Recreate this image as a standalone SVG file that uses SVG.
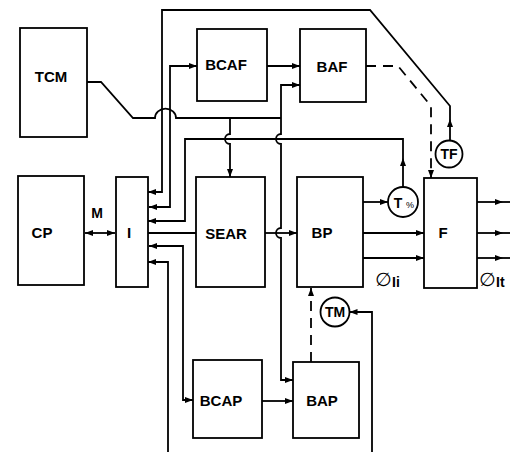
<svg xmlns="http://www.w3.org/2000/svg" width="511" height="452" viewBox="0 0 511 452">
<style>
.box{fill:#fff;stroke:#000;stroke-width:1.8}
.lbl{font-family:"Liberation Sans",Arial,sans-serif;font-weight:bold;font-size:15px;text-anchor:middle;fill:#000}
.clbl{font-family:"Liberation Sans",Arial,sans-serif;font-weight:bold;font-size:14px;text-anchor:middle;fill:#000}
.ln{fill:none;stroke:#000;stroke-width:1.8}
.ds{fill:none;stroke:#000;stroke-width:1.8;stroke-dasharray:10 7}
.sym{font-family:"DejaVu Sans",sans-serif;font-size:19px;fill:#000}
.sm{font-family:"Liberation Sans",Arial,sans-serif;font-weight:bold;font-size:14px;fill:#000}
</style>
<defs>
<marker id="a" markerUnits="userSpaceOnUse" markerWidth="10" markerHeight="8" refX="8" refY="3" orient="auto-start-reverse">
<path d="M0,0 L8,3 L0,6 z" fill="#000"/>
</marker>
</defs>
<rect width="511" height="452" fill="#fff"/>

<g id="connectors">
<!-- CP <-> I -->
<path class="ln" d="M85,233 H115" marker-start="url(#a)" marker-end="url(#a)"/>
<!-- I -> SEAR -->
<path class="ln" d="M148,233 H196"/>
<!-- SEAR -> BP -->
<path class="ln" d="M265,233 H297" marker-end="url(#a)"/>
<!-- TCM line with hop, junctions -->
<path class="ln" d="M87,82 H101 L133,118 H155 A10,9 0 0 1 176,118 H281"/>
<!-- junction to SEAR -->
<path class="ln" d="M230,118 V134 A5,5 0 0 0 230,144 V177" marker-end="url(#a)"/>
<!-- vertical BAF / BAP -->
<path class="ln" d="M300,85 H281 V134 A5,5 0 0 0 281,144 V228 A5,5 0 0 0 281,238 V380 H293" marker-start="url(#a)" marker-end="url(#a)"/>
<!-- T loop back to I -->
<path class="ln" d="M403,187 V139 H185 V221 H148" marker-end="url(#a)"/>
<path d="M403,158 L400,166 L406,166 z" fill="#000"/>
<!-- top loop TF -> I -->
<path class="ln" d="M450,140 V106 L370,10 H162 V192 H148" marker-end="url(#a)"/>
<path d="M450,119 L447,127 L453,127 z" fill="#000"/>
<!-- I <-> BCAF -->
<path class="ln" d="M149,207 H170 V66 H197" marker-start="url(#a)" marker-end="url(#a)"/>
<!-- BCAF -> BAF -->
<path class="ln" d="M267,66 H300" marker-end="url(#a)"/>
<!-- I <-> BCAP -->
<path class="ln" d="M149,246 H183 V400 H193" marker-start="url(#a)" marker-end="url(#a)"/>
<!-- bottom input -> I -->
<path class="ln" d="M168,452 V262 H148" marker-end="url(#a)"/>
<!-- BCAP -> BAP -->
<path class="ln" d="M262,401 H293" marker-end="url(#a)"/>
<!-- BAP -> BP dashed -->
<path class="ds" d="M311,362 V288" marker-end="url(#a)"/>
<!-- input -> TM -->
<path class="ln" d="M372,452 V312 H349.5" marker-end="url(#a)"/>
<!-- BP -> T -->
<path class="ln" d="M363,202 H388" marker-end="url(#a)"/>
<!-- BP -> F -->
<path class="ln" d="M363,233 H424" marker-end="url(#a)"/>
<path class="ln" d="M363,258 H424" marker-end="url(#a)"/>
<!-- F outputs -->
<path class="ln" d="M477,202 H503" marker-end="url(#a)"/>
<path class="ln" d="M503,202 H510"/>
<path class="ln" d="M477,233 H503" marker-end="url(#a)"/>
<path class="ln" d="M503,233 H510"/>
<path class="ln" d="M477,258 H503" marker-end="url(#a)"/>
<path class="ln" d="M503,258 H510"/>
<!-- BAF -> F dashed -->
<path class="ds" d="M366,66 H398 L431,106 V178" marker-end="url(#a)"/>
</g>

<g id="TCM"><rect class="box" x="20" y="28" width="67" height="109"/><text class="lbl" x="51" y="82">TCM</text></g>
<g id="CP"><rect class="box" x="18" y="176" width="66" height="109"/><text class="lbl" x="42" y="238">CP</text></g>
<g id="I"><rect class="box" x="116" y="177" width="32" height="110"/><text class="lbl" x="129" y="238">I</text></g>
<g id="BCAF"><rect class="box" x="197" y="29" width="70" height="72"/><text class="lbl" x="226" y="70">BCAF</text></g>
<g id="BAF"><rect class="box" x="300" y="29" width="66" height="73"/><text class="lbl" x="332" y="72">BAF</text></g>
<g id="SEAR"><rect class="box" x="196" y="177" width="69" height="110"/><text class="lbl" x="226" y="239">SEAR</text></g>
<g id="BP"><rect class="box" x="297" y="177" width="66" height="110"/><text class="lbl" x="322" y="238">BP</text></g>
<g id="F"><rect class="box" x="424" y="178" width="53" height="110"/><text class="lbl" x="443" y="238">F</text></g>
<g id="BCAP"><rect class="box" x="193" y="360" width="69" height="78"/><text class="lbl" x="221" y="406">BCAP</text></g>
<g id="BAP"><rect class="box" x="293" y="362" width="66" height="76"/><text class="lbl" x="322" y="406">BAP</text></g>

<g id="TF"><circle class="box" cx="449" cy="154" r="13.5"/><text class="clbl" x="449" y="159">TF</text></g>
<g id="T"><circle class="box" cx="403" cy="202" r="15"/><text class="clbl" x="398" y="208" font-size="16">T</text><text x="410" y="208" font-family="Liberation Sans,Arial,sans-serif" font-size="9" text-anchor="middle">%</text></g>
<g id="TM"><circle class="box" cx="335" cy="312" r="14.5"/><text class="clbl" x="335" y="317">TM</text></g>

<g id="labels">
<text class="sm" x="97" y="218" text-anchor="middle">M</text>
<text class="sym" x="375" y="286">∅</text><text class="sm" x="392" y="287">Ii</text>
<text class="sym" x="479" y="286">∅</text><text class="sm" x="496" y="287">It</text>
</g>
</svg>
